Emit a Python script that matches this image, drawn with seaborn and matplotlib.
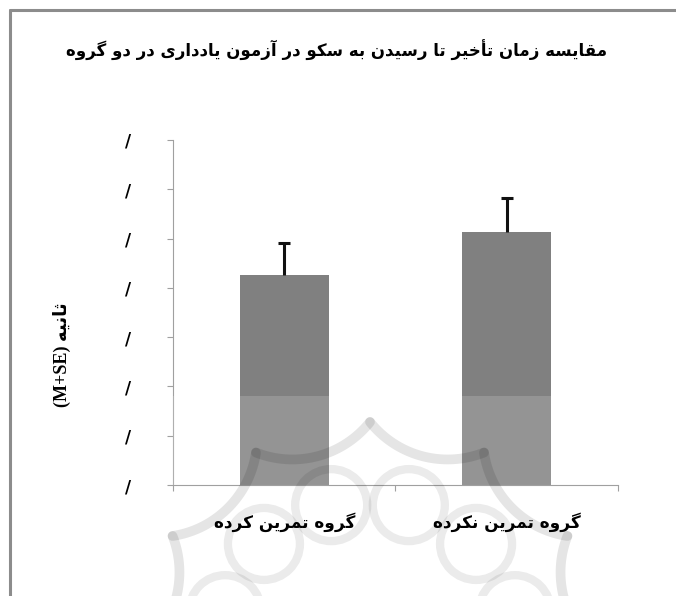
import numpy as np
import pandas as pd
import matplotlib
matplotlib.use("Agg")
import matplotlib.pyplot as plt
from matplotlib.patches import Rectangle, Circle
import seaborn as sns

# ---- data -------------------------------------------------------------
groups = ["گروه تمرین کرده", "گروه تمرین نکرده"]
means = [4.26, 5.13]
se = [0.65, 0.69]
yticks = [0, 1, 2, 3, 4, 5, 6, 7]
ytick_labels = ["/"] * len(yticks)
title_text = "مقایسه زمان تأخیر تا رسیدن به سکو در آزمون یادداری در دو گروه"
ylabel_fa = "ثانیه"
ylabel_en = "(M+SE)"

# ---- minimal Persian shaping (contextual forms + visual order) ---------
# isolated, final, initial, medial
FORMS = {
    "\u0627": ("\uFE8D", "\uFE8E", None, None),
    "\u0622": ("\uFE81", "\uFE82", None, None),
    "\u0623": ("\uFE83", "\uFE84", None, None),
    "\u0628": ("\uFE8F", "\uFE90", "\uFE91", "\uFE92"),
    "\u067E": ("\uFB56", "\uFB57", "\uFB58", "\uFB59"),
    "\u062A": ("\uFE95", "\uFE96", "\uFE97", "\uFE98"),
    "\u062B": ("\uFE99", "\uFE9A", "\uFE9B", "\uFE9C"),
    "\u062C": ("\uFE9D", "\uFE9E", "\uFE9F", "\uFEA0"),
    "\u062D": ("\uFEA1", "\uFEA2", "\uFEA3", "\uFEA4"),
    "\u062E": ("\uFEA5", "\uFEA6", "\uFEA7", "\uFEA8"),
    "\u062F": ("\uFEA9", "\uFEAA", None, None),
    "\u0630": ("\uFEAB", "\uFEAC", None, None),
    "\u0631": ("\uFEAD", "\uFEAE", None, None),
    "\u0632": ("\uFEAF", "\uFEB0", None, None),
    "\u0698": ("\uFB8A", "\uFB8B", None, None),
    "\u0633": ("\uFEB1", "\uFEB2", "\uFEB3", "\uFEB4"),
    "\u0634": ("\uFEB5", "\uFEB6", "\uFEB7", "\uFEB8"),
    "\u0639": ("\uFEC9", "\uFECA", "\uFECB", "\uFECC"),
    "\u0641": ("\uFED1", "\uFED2", "\uFED3", "\uFED4"),
    "\u0642": ("\uFED5", "\uFED6", "\uFED7", "\uFED8"),
    "\u06A9": ("\uFB8E", "\uFB8F", "\uFB90", "\uFB91"),
    "\u06AF": ("\uFB92", "\uFB93", "\uFB94", "\uFB95"),
    "\u0644": ("\uFEDD", "\uFEDE", "\uFEDF", "\uFEE0"),
    "\u0645": ("\uFEE1", "\uFEE2", "\uFEE3", "\uFEE4"),
    "\u0646": ("\uFEE5", "\uFEE6", "\uFEE7", "\uFEE8"),
    "\u0647": ("\uFEE9", "\uFEEA", "\uFEEB", "\uFEEC"),
    "\u0648": ("\uFEED", "\uFEEE", None, None),
    "\u06CC": ("\uFBFC", "\uFBFD", "\uFBFE", "\uFBFF"),
    "\u064A": ("\uFEF1", "\uFEF2", "\uFEF3", "\uFEF4"),
}


def fa(text):
    chars = list(text)
    out = []
    for i, c in enumerate(chars):
        if c not in FORMS:
            out.append(c)
            continue
        prev = chars[i - 1] if i > 0 else None
        nxt = chars[i + 1] if i + 1 < len(chars) else None
        iso, fin, ini, med = FORMS[c]
        join_prev = prev in FORMS and FORMS[prev][2] is not None
        join_next = nxt in FORMS and ini is not None
        if join_prev and join_next:
            out.append(med)
        elif join_prev:
            out.append(fin)
        elif join_next:
            out.append(ini)
        else:
            out.append(iso)
    return "".join(reversed(out))


# ---- figure -----------------------------------------------------------
sns.set_theme(style="white")
plt.rcParams["font.family"] = ["DejaVu Sans"]

W, H = 676, 596
fig = plt.figure(figsize=(W / 100, H / 100), dpi=100)
fig.patch.set_facecolor("white")

ax = fig.add_axes([173 / W, 1 - 485 / H, (618 - 173) / W, (485 - 140) / H])
ax.patch.set_alpha(0)

df = pd.DataFrame({"group": groups, "mean": means, "se": se})
sns.barplot(data=df, x="group", y="mean", color="#808080", saturation=1,
            width=0.4, errorbar=None, ax=ax, linewidth=0, zorder=2)
eb = ax.errorbar(x=np.arange(len(groups)), y=df["mean"],
                 yerr=[np.zeros(len(se)), df["se"]], fmt="none",
                 ecolor="#111111", elinewidth=2.2, capsize=4, capthick=2.2,
                 zorder=3)
# upper caps only
eb.lines[1][0].set_visible(False)

ax.set_xlim(-0.5, len(groups) - 0.5)
ax.set_ylim(yticks[0], yticks[-1])
ax.set_yticks(yticks)
ax.set_yticklabels(ytick_labels, fontsize=12, fontweight="bold", color="black")
ax.tick_params(axis="y", length=4, width=0.8, color="#a0a0a0", pad=26, left=True)

ax.set_xticks(range(len(groups)))
ax.set_xticklabels([fa(g) for g in groups], fontsize=12.2, fontweight="bold",
                   color="black")
ax.tick_params(axis="x", length=0, pad=20)
ax.set_xticks([-0.5, 0.5, 1.5], minor=True)
ax.tick_params(axis="x", which="minor", length=4, width=0.8, color="#a0a0a0",
               bottom=True)
ax.set_xlabel("")
ax.set_ylabel("")

for side in ("top", "right"):
    ax.spines[side].set_visible(False)
for side in ("left", "bottom"):
    ax.spines[side].set_color("#a0a0a0")
    ax.spines[side].set_linewidth(0.8)

fig.text(337 / W, 1 - 50 / H, fa(title_text), ha="center", va="center",
         fontsize=12, fontweight="bold", color="black")
fig.text(62 / W, 1 - 355 / H, ylabel_en + " " + fa(ylabel_fa), rotation=90,
         ha="center", va="center", fontsize=13, fontweight="bold",
         family=["Liberation Serif", "DejaVu Sans"], color="black")

# page frame (top and left edges of the chart box)
fig.add_artist(plt.Line2D([10 / W, 1], [1 - 10 / H, 1 - 10 / H],
                          transform=fig.transFigure, color="#8c8c8c", lw=2.2))
fig.add_artist(plt.Line2D([10 / W, 10 / W], [0, 1 - 10 / H],
                          transform=fig.transFigure, color="#8c8c8c", lw=2.2))

# faint twelve-pointed rosette watermark over the lower part of the page
wm = fig.add_axes([0, 0, 1, 1 - 396 / H], zorder=10)
wm.set_xlim(0, W)
wm.set_ylim(H, 396)
wm.axis("off")
wm.patch.set_alpha(0)
wm.add_patch(Rectangle((173, 396), 618 - 173, 485 - 396, facecolor="white",
                       alpha=0.16, lw=0))

cx, cy = 370, 650
tip_r, arc_d, n_pts = 228, 300, 12
for k in range(n_pts):
    a1 = np.deg2rad(360 / n_pts * k)
    a2 = np.deg2rad(360 / n_pts * (k + 1))
    am = (a1 + a2) / 2
    p1 = np.array([cx + tip_r * np.sin(a1), cy - tip_r * np.cos(a1)])
    p2 = np.array([cx + tip_r * np.sin(a2), cy - tip_r * np.cos(a2)])
    c = np.array([cx + arc_d * np.sin(am), cy - arc_d * np.cos(am)])
    rho = np.linalg.norm(p1 - c)
    t1 = np.arctan2(p1[1] - c[1], p1[0] - c[0])
    t2 = np.arctan2(p2[1] - c[1], p2[0] - c[0])
    if t2 < t1:
        t2 += 2 * np.pi
    if t2 - t1 > np.pi:
        t1, t2 = t2, t1 + 2 * np.pi
    t = np.linspace(t1, t2, 60)
    wm.plot(c[0] + rho * np.cos(t), c[1] + rho * np.sin(t), color="black",
            alpha=0.10, lw=7, solid_capstyle="round")
for k in range(n_pts):
    a = np.deg2rad(360 / n_pts * (k + 0.5))
    wm.add_patch(Circle((cx + 150 * np.sin(a), cy - 150 * np.cos(a)), 36,
                        fill=False, edgecolor="black", alpha=0.08, lw=6))

fig.savefig("out.png", dpi=100, facecolor="white")
